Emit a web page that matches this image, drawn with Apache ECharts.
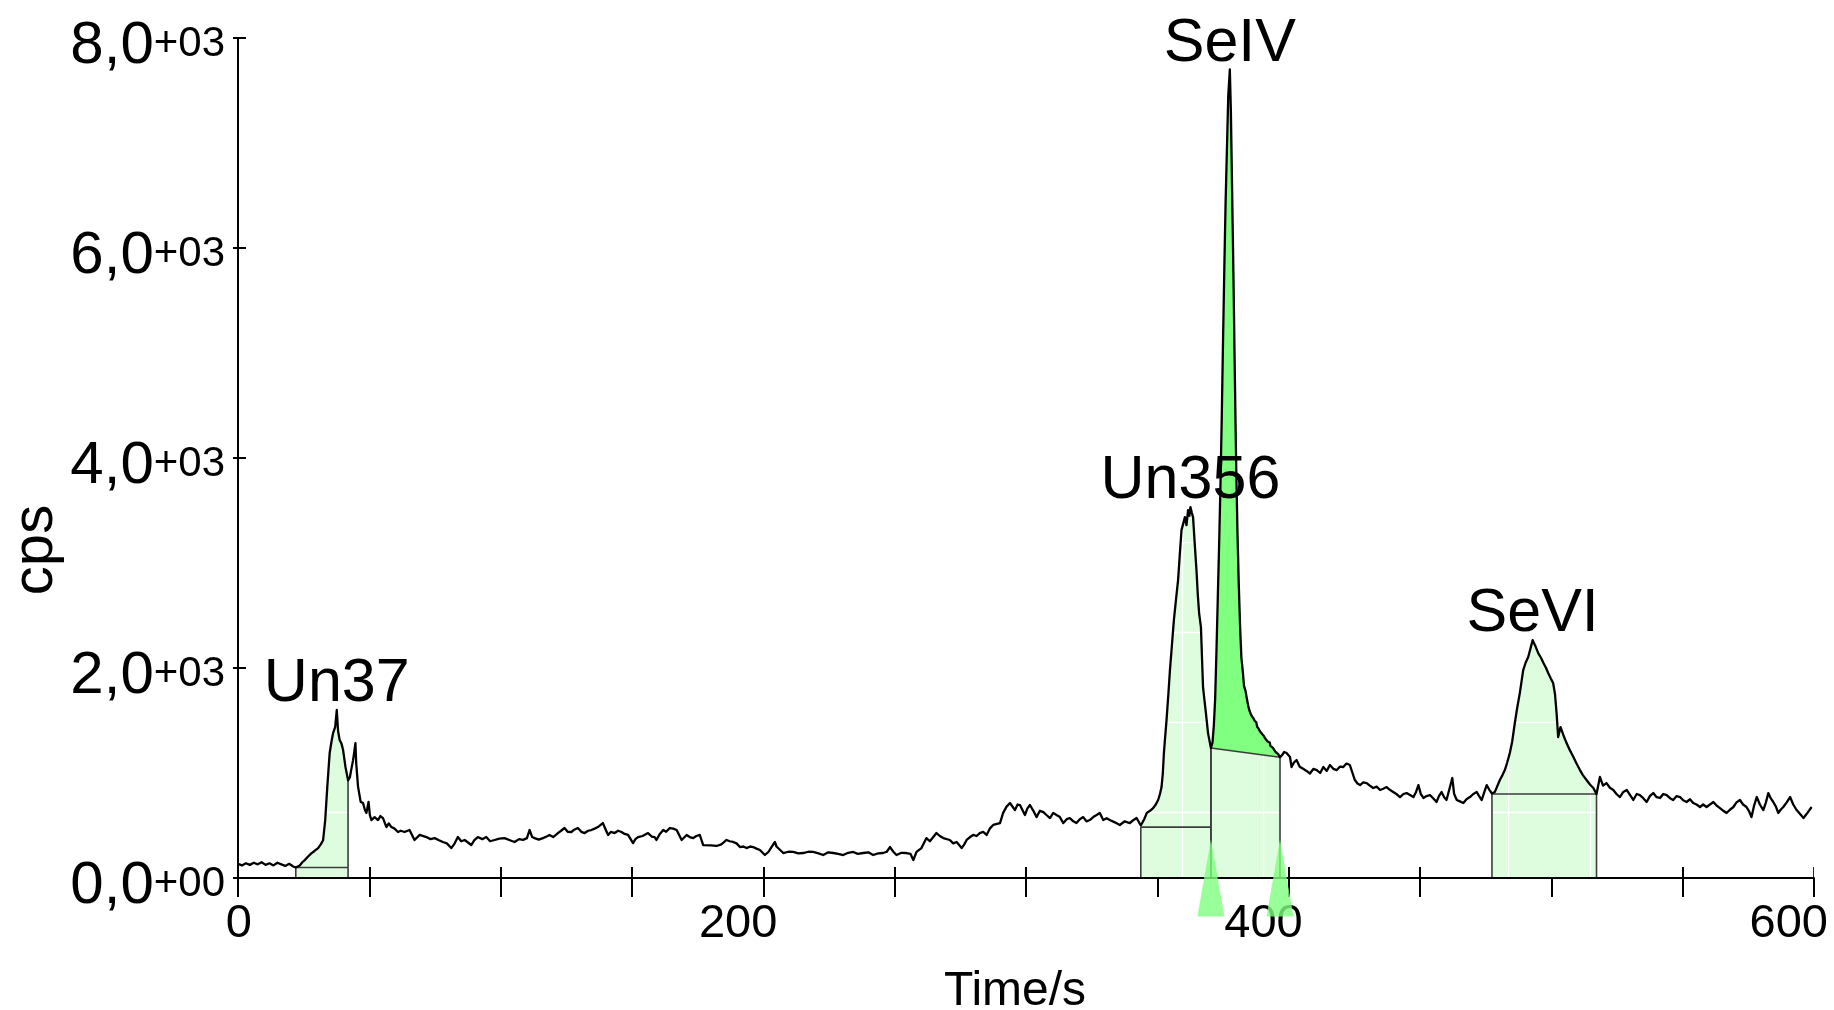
<!DOCTYPE html>
<html>
<head>
<meta charset="utf-8">
<title>Chromatogram</title>
<script src="https://cdn.jsdelivr.net/npm/echarts@6/dist/echarts.min.js"></script>
<style>
  html, body { margin: 0; padding: 0; background: #ffffff; }
  #chart { width: 1834px; height: 1010px; }
</style>
</head>
<body>
<div id="chart"></div>
<script>
// ---- Signal trace, [time (s), cps] ----
const traceLead = [[0,135],[1.5,120],[3,140],[4.5,125],[6,145],[7.5,130],[9,150],[10.5,125],[12,140],[13.5,120],[15,145],[16.5,130],[18,115],[19.5,135],[21,110],[22,100]];

const traceUn37 = [[23.5,120],[24.5,150],[25.4,170],[26.5,200],[27.9,235],[29,255],[30.5,285],[31.5,320],[32.4,360],[33.2,550],[34,870],[34.9,1190],[35.6,1300],[36.2,1380],[37,1440],[37.6,1600],[38.1,1400],[38.7,1314],[39.4,1280],[40,1220],[40.9,1060],[41.9,930],[42.6,960],[43.1,1030],[43.8,1120],[44.2,1190],[44.7,1285],[45,1095],[45.7,870],[46.7,725],[47.6,714],[48.3,650],[48.9,620],[49.7,725],[50.2,600],[50.8,552],[52,580],[53.3,552],[54.2,590],[55.2,570],[56.5,485],[57.4,520],[58.4,485],[59.6,470],[60.9,438]];

const traceDrift = [[62,450],[63.4,438],[65.3,457],[67.2,362],[69.2,410],[71.7,390],[73.3,370],[74.9,380],[76.5,360],[78,343],[79.5,330],[81.2,285],[82.5,330],[83.7,390],[85,350],[86.3,362],[88.8,314],[90,360],[91.3,390],[93,370],[94.5,390],[96,350],[97.7,362],[99.5,375],[101.5,380],[103.5,360],[105.3,343],[107,370],[108.5,362],[110,380],[111,457],[112,390],[112.9,380],[114.5,365],[116.1,380],[117.5,395],[118.6,410],[120,390],[121.8,428],[123,450],[124.3,476],[125.5,440],[126.9,438],[128,460],[129.4,476],[130.7,440],[132,428],[133.3,450],[134.5,457],[135.8,470],[137,485],[138.9,523],[140,460],[140.9,410],[142,440],[143.4,428],[144.7,450],[146,438],[147.2,420],[148.5,410],[150.4,333],[151.3,370],[152.3,390],[154,400],[156.1,428],[157.5,395],[158.6,390],[159.3,362],[160.6,420],[161.9,457],[163,440],[164.4,476],[165.7,470],[167,457],[168.9,362],[170.8,410],[172,390],[173.3,380],[174.5,400],[175.8,410],[176.5,400],[177.1,314],[180,310],[182.2,305],[184,320],[186,362],[187.2,350],[188.5,343],[189.8,330],[191.1,295],[192.4,300],[193.6,285],[195,300],[196.1,295],[197.4,280],[198.7,267],[200.6,219],[202,250],[203.1,295],[204.4,343],[205,300],[205.7,285],[207.6,238],[209.5,250],[211.4,248],[213.3,235],[215.2,238],[217.1,250],[219,248],[221,235],[222.8,219],[224.7,245],[226.6,238],[228.5,230],[230.4,219],[232.3,240],[234.2,248],[236,230],[238,238],[240,245],[241.8,219],[243.7,235],[245.6,238],[247,250],[248.2,295],[249.5,250],[250.7,219],[252.6,240],[254.5,238],[256,230],[257.1,171],[258.3,248],[260.2,285],[262.1,380],[263.4,350],[264.7,390],[265.9,428],[267.2,400],[268.5,380],[271,362],[272.3,330],[273.6,343],[275.5,285],[276.5,320],[277.4,362],[278.7,390],[279.9,410],[281.2,400],[282.4,428],[283.7,440],[285,410],[286.2,470],[287.5,505],[290.1,523],[291.3,620],[292.6,680],[293.9,714],[295.8,647],[296.8,700],[297.7,695],[299.6,600],[300.5,660],[301.5,695],[302.8,640],[304,580],[305.3,640],[306.6,628],[307.8,600],[309.1,571],[310.4,620],[311.6,600],[312.9,580],[314.2,523],[315.5,560],[316.7,571],[318,540],[319.2,523],[320.5,560],[321.8,580],[323,540],[324.3,552],[325.6,580],[326.9,600],[328.1,620],[329.4,552],[330.7,570],[331.9,552],[333.8,530],[335.7,505],[337.6,540],[339.5,523]];

const traceUn356 = [[340.8,550],[342.1,571],[343.7,500],[345,560],[346,620],[347.2,640],[348.4,666],[349.4,700],[350.3,743],[351,800],[351.6,866],[352.1,1000],[352.5,1190],[353,1350],[353.5,1504],[354.2,1750],[354.8,1980],[355.5,2200],[356.3,2456],[357.1,2650],[357.9,2837],[358.6,3100],[359.2,3313],[359.9,3380],[360.5,3437],[361.1,3360],[361.7,3503],[362.2,3450],[362.6,3532],[363.1,3480],[363.6,3437],[364.2,3200],[364.9,2932],[365.4,2700],[365.9,2523],[366.6,2390],[367,2100],[367.4,1818],[368,1680],[368.5,1570],[369.3,1380],[370.4,1238]];

const traceSeIV = [[371,1290],[371.5,1450],[372,1700],[372.5,2150],[373,2650],[373.5,3150],[374,3700],[374.5,4350],[375,5100],[375.5,5800],[376,6450],[376.5,6950],[377,7450],[377.6,7700],[378,7300],[378.5,6500],[379,5700],[379.5,4800],[380,3950],[380.5,3300],[381,2800],[381.5,2400],[382,2100],[382.6,1950],[383,1830],[383.6,1780],[384,1720],[384.6,1640],[385,1600],[385.6,1560],[386,1540],[386.6,1520],[387,1500],[387.7,1480],[388,1440],[388.6,1420],[389,1400],[389.6,1380],[390,1370],[390.6,1350],[391,1330],[391.6,1340],[392,1300],[392.8,1290],[393,1260],[393.6,1270],[394,1240],[394.6,1230],[395,1200],[395.6,1210],[396,1180],[396.7,1150]];

const traceTail = [[397.5,1170],[398.3,1200],[399.2,1190],[400.5,1152],[401.1,1057],[402,1100],[403,1123],[404.2,1060],[405.5,1040],[406.8,1020],[408.1,995],[409.4,1040],[410.7,1028],[412,1000],[413.2,1057],[414.5,1020],[415.7,1076],[417,1040],[418.3,1028],[419.5,1060],[420.8,1057],[422,1090],[423.3,1076],[424.3,1000],[425.2,933],[426.2,900],[427.2,885],[428.4,910],[429.7,904],[430.9,880],[432.2,857],[433.5,870],[434.8,838],[436,850],[437.3,866],[438.5,840],[439.8,819],[441,800],[442.4,771],[443.7,800],[444.9,809],[446.2,790],[447.5,771],[448.5,820],[449.4,885],[450.3,800],[451.3,762],[452.5,780],[453.8,790],[455,760],[456.3,724],[457.2,780],[458.2,819],[459.2,770],[460.1,743],[461.4,866],[462.3,952],[463,800],[464,743],[465.2,730],[466.5,714],[467.7,750],[469,771],[470.3,800],[471.6,819],[472.5,780],[473.5,743],[474.5,820],[475.4,885],[476.4,840],[477.4,805]];

const traceSeVI = [[478.5,820],[479.5,880],[480.4,933],[481.4,980],[482.3,1028],[483.2,1100],[484.2,1190],[485.1,1300],[486.1,1476],[487,1620],[488,1761],[488.7,1880],[489.3,1980],[490.2,2050],[491.2,2104],[492,2180],[492.9,2266],[493.5,2230],[494.1,2199],[495,2142],[496,2100],[497,2047],[498,2000],[498.8,1952],[499.8,1900],[500.7,1856],[501.4,1750],[502,1570],[502.6,1342],[503.5,1437],[504.6,1360],[505.8,1285],[507,1220],[508.4,1152],[509.6,1090],[510.9,1028],[512,980],[513.4,933],[514.7,890],[516,857],[517.2,800]];

const traceEnd = [[518.5,962],[519.7,880],[521,904],[522.3,860],[523.6,838],[524.8,800],[526.1,771],[527.4,820],[528.7,838],[530,790],[531.2,743],[532.5,800],[533.7,790],[535,760],[536.3,724],[537.5,780],[538.8,809],[540.1,770],[541.4,762],[542.6,800],[543.9,790],[545.2,760],[546.4,743],[547.7,780],[549,771],[550.2,740],[551.5,724],[552.8,750],[554,714],[555.3,700],[556.6,676],[557.8,700],[559.1,676],[560.4,700],[561.7,724],[562.9,690],[564.2,666],[565.5,640],[566.7,619],[568,650],[569.3,676],[570.5,720],[571.8,743],[573,700],[574.3,676],[575.2,640],[576.2,580],[577.2,690],[578.2,771],[579.4,700],[580.7,647],[581.7,720],[582.6,809],[583.5,760],[584.5,724],[585.5,680],[586.4,619],[587.3,650],[588.3,676],[589.6,720],[590.9,771],[592.1,700],[593.4,647],[594.7,610],[596,571],[597.5,620],[599.1,676]];

// ---- Integrated peaks ----
const peakNames     = ['Un37', 'Un356', 'SeIV', 'SeVI'];
const peakStart     = [22, 343.7, 370.4, 477.4];
const peakEnd       = [41.9, 370.4, 396.7, 517.2];
const baselineStart = [100, 485, 1238, 800];
const baselineEnd   = [100, 485, 1150, 800];
const selectedPeak  = 'SeIV';

// ---- Axis ticks ----
const xLabelValues   = [0, 200, 400, 600];
const yTickValues    = [0, 2000, 4000, 6000, 8000];
const yTickMantissa  = ['0,0', '2,0', '4,0', '6,0', '8,0'];
const yTickExponent  = ['+00', '+03', '+03', '+03', '+03'];

// ---------------------------------------------------------------
const trace = [].concat(traceLead, traceUn37, traceDrift, traceUn356,
                        traceSeIV, traceTail, traceSeVI, traceEnd);

const FONT = '"Liberation Sans", Arial, Helvetica, sans-serif';
const LIGHT_FILL = '#defcde';
const BRIGHT_FILL = '#80ff80';
const OUTLINE = '#3c3c3c';
const selectedIndex = peakNames.indexOf(selectedPeak);

function segment(i) {
  return trace.filter(p => p[0] >= peakStart[i] - 1e-9 && p[0] <= peakEnd[i] + 1e-9);
}
function traceAt(t) {
  let best = trace[0];
  for (const p of trace) if (Math.abs(p[0] - t) < Math.abs(best[0] - t)) best = p;
  return best[1];
}
function peakApex(i) {
  return segment(i).reduce((a, b) => (b[1] > a[1] ? b : a));
}

const chart = echarts.init(document.getElementById('chart'), null, { renderer: 'canvas' });

const peakItems = peakNames.map((n, i) => ({ name: n, value: [peakStart[i], baselineStart[i]] }));

const option = {
  animation: false,
  backgroundColor: '#ffffff',
  textStyle: { fontFamily: FONT },
  grid: [
    { left: 238, right: 20, top: 38, bottom: 132, containLabel: false, outerBoundsMode: 'none' },
    // faint lattice seen through the peak fills
    { left: 285.5, right: 20, top: 38, bottom: 132, containLabel: false, outerBoundsMode: 'none' },
    { left: 238, right: 20, top: 92, bottom: 198, containLabel: false, outerBoundsMode: 'none' }
  ],
  xAxis: [
    {
      gridIndex: 0, type: 'value', position: 'bottom', min: 0, max: 600, interval: 50, z: 6,
      axisLine: { show: true, onZero: false, lineStyle: { color: '#000', width: 2 } },
      axisTick: { show: true, inside: false, length: 19, lineStyle: { color: '#000', width: 2 } },
      splitLine: { show: false },
      axisLabel: {
        show: true, margin: 23, color: '#000',
        formatter: v => (xLabelValues.indexOf(v) >= 0 ? '{t|' + v + '}' : ''),
        rich: { t: { fontSize: 47, fontFamily: FONT, color: '#000', width: 28, align: 'right' } }
      },
      name: 'Time/s', nameLocation: 'middle', nameGap: 90,
      nameTextStyle: { fontSize: 48, fontFamily: FONT, color: '#000', padding: [0, 22, 0, 0] }
    },
    {
      gridIndex: 0, type: 'value', position: 'bottom', min: 0, max: 600, interval: 50, z: 0,
      axisLine: { show: false, onZero: false },
      axisTick: { show: true, inside: true, length: 11, lineStyle: { color: '#000', width: 2 } },
      axisLabel: { show: false }, splitLine: { show: false }
    },
    {
      gridIndex: 1, type: 'value', min: 0, max: 18.75, interval: 1, z: 2,
      axisLine: { show: false }, axisTick: { show: false }, axisLabel: { show: false },
      splitLine: { show: true, lineStyle: { color: '#ffffff', width: 1.3 } }
    },
    { gridIndex: 2, type: 'value', show: false, min: 0, max: 1 }
  ],
  yAxis: [
    {
      gridIndex: 0, type: 'value', position: 'left', min: 0, max: 8000, interval: 2000, z: 6,
      axisLine: { show: true, onZero: false, lineStyle: { color: '#000', width: 2 } },
      axisTick: { show: true, inside: false, length: 5, lineStyle: { color: '#000', width: 2 } },
      splitLine: { show: false },
      axisLabel: {
        show: true, margin: 13, color: '#000', padding: [16, 0, 0, 0],
        formatter: v => {
          const i = yTickValues.indexOf(v);
          return i < 0 ? '' : '{m|' + yTickMantissa[i] + '}{e|' + yTickExponent[i] + '}';
        },
        rich: {
          m: { fontSize: 60, fontFamily: FONT, color: '#000', verticalAlign: 'middle' },
          e: { fontSize: 42, fontFamily: FONT, color: '#000', verticalAlign: 'middle', padding: [0, 0, 4, 0] }
        }
      }
    },
    {
      gridIndex: 0, type: 'value', position: 'left', min: 0, max: 8000, interval: 2000, z: 0,
      axisLine: { show: false, onZero: false },
      axisTick: { show: true, inside: true, length: 8, lineStyle: { color: '#000', width: 2 } },
      axisLabel: { show: false }, splitLine: { show: false }
    },
    { gridIndex: 1, type: 'value', show: false, min: 0, max: 1 },
    {
      gridIndex: 2, type: 'value', min: 0, max: 8, interval: 1, z: 2,
      axisLine: { show: false }, axisTick: { show: false }, axisLabel: { show: false },
      splitLine: { show: true, lineStyle: { color: '#ffffff', width: 1.3 } }
    }
  ],
  graphic: [
    {
      type: 'text', x: 36, y: 550, rotation: Math.PI / 2, z: 10,
      style: {
        text: 'cps', fontSize: 58, fontFamily: FONT, fill: '#000',
        align: 'center', verticalAlign: 'middle', textAlign: 'center', textVerticalAlign: 'middle'
      }
    }
  ],
  series: [
    {
      // area between axis and trace (or integration baseline) for every peak
      type: 'custom', name: 'peakFill', xAxisIndex: 0, yAxisIndex: 0, z: 1, silent: true,
      data: peakItems,
      renderItem: (params, api) => {
        const i = params.dataIndex;
        const s = peakStart[i], e = peakEnd[i];
        let pts;
        if (i === selectedIndex) {
          pts = [[s, 0], [s, baselineStart[i]], [e, baselineEnd[i]], [e, 0]];
        } else {
          pts = [[s, 0]].concat(segment(i), [[e, 0]]);
        }
        return { type: 'polygon', shape: { points: pts.map(p => api.coord(p)) },
                 style: { fill: LIGHT_FILL } };
      }
    },
    {
      // quantified peak area above its sloped baseline
      type: 'custom', name: 'selectedFill', xAxisIndex: 0, yAxisIndex: 0, z: 3, silent: true,
      data: [peakItems[selectedIndex]],
      renderItem: (params, api) => {
        const i = selectedIndex;
        const pts = segment(i).concat([[peakEnd[i], baselineEnd[i]], [peakStart[i], baselineStart[i]]]);
        return { type: 'polygon', shape: { points: pts.map(p => api.coord(p)) },
                 style: { fill: BRIGHT_FILL } };
      }
    },
    {
      type: 'line', name: 'cps', xAxisIndex: 0, yAxisIndex: 0, z: 4,
      data: trace, showSymbol: false, symbol: 'none', smooth: false, silent: true,
      lineStyle: { color: '#000', width: 2.3, join: 'round' }
    },
    {
      // integration limits and baselines
      type: 'custom', name: 'peakOutline', xAxisIndex: 0, yAxisIndex: 0, z: 4, silent: true,
      data: peakItems,
      renderItem: (params, api) => {
        const i = params.dataIndex;
        const s = peakStart[i], e = peakEnd[i];
        const style = { stroke: OUTLINE, lineWidth: 1.6, fill: null };
        const line = pts => ({ type: 'polyline', shape: { points: pts.map(p => api.coord(p)) }, style });
        return {
          type: 'group',
          children: [
            line([[s, 0], [s, baselineStart[i]]]),
            line([[s, baselineStart[i]], [e, baselineEnd[i]]]),
            line([[e, 0], [e, traceAt(e)]])
          ]
        };
      }
    },
    {
      type: 'scatter', name: 'peakLabels', xAxisIndex: 0, yAxisIndex: 0, z: 5, silent: true,
      symbolSize: 0, itemStyle: { color: '#000' },
      data: peakNames.map((n, i) => ({ name: n, value: peakApex(i) })),
      label: {
        show: true, position: 'top', distance: -5, formatter: p => p.name,
        fontSize: 61, fontFamily: FONT, color: '#000', opacity: 1
      }
    },
    {
      type: 'scatter', name: 'limits', xAxisIndex: 0, yAxisIndex: 0, z: 7, silent: true, clip: false,
      symbol: 'triangle', symbolSize: [27, 77],
      itemStyle: { color: BRIGHT_FILL },
      data: [[peakStart[selectedIndex], 0], [peakEnd[selectedIndex], 0]]
    }
  ]
};

chart.setOption(option);
</script>
</body>
</html>
